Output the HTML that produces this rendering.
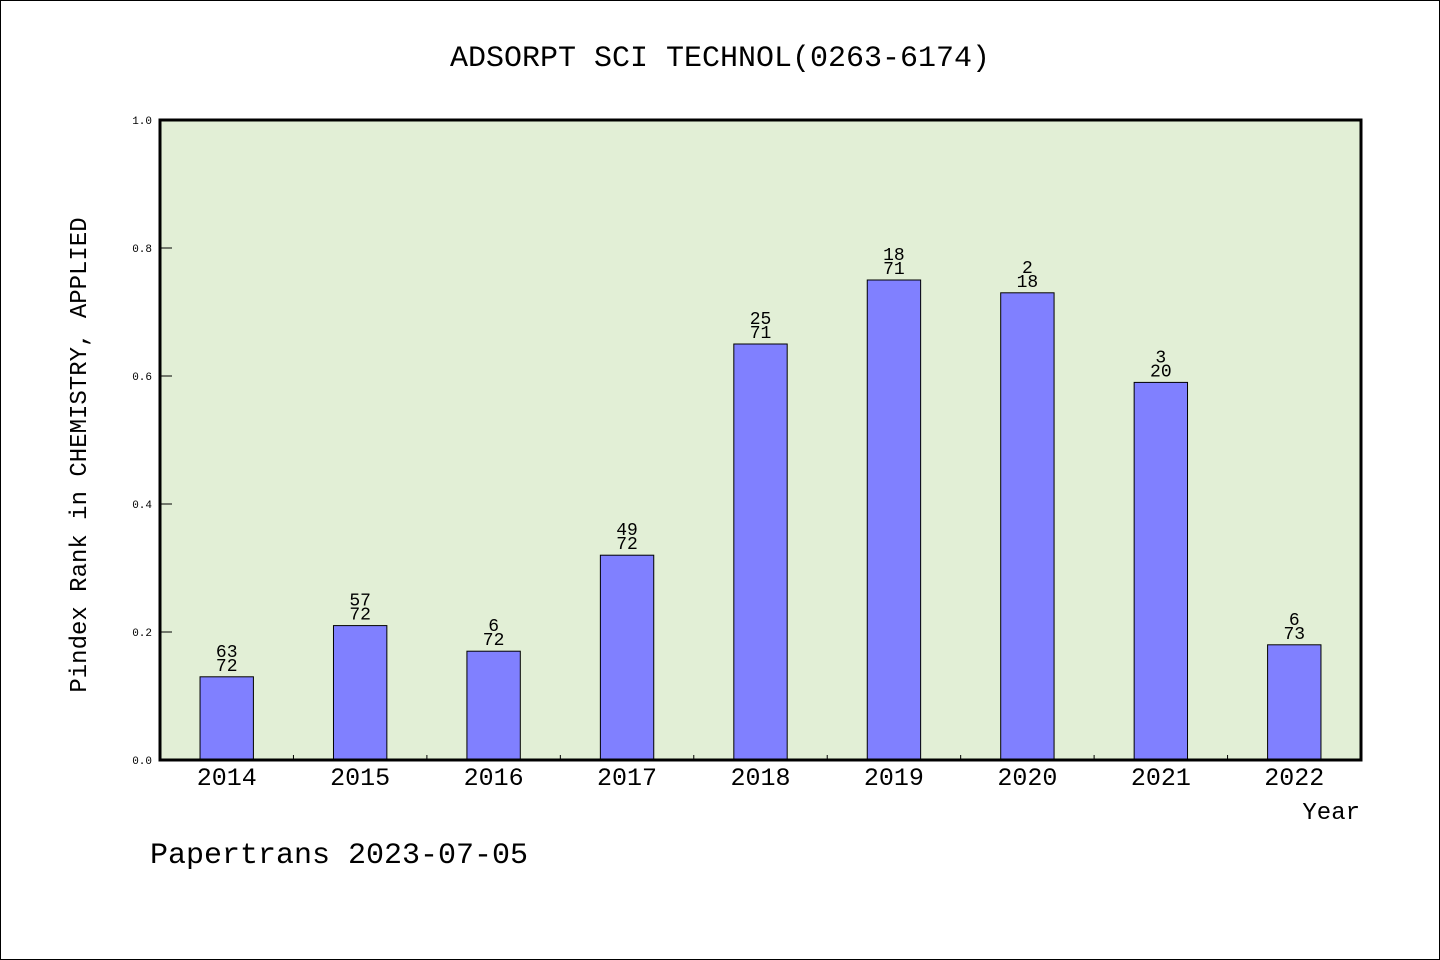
<!DOCTYPE html>
<html><head><meta charset="utf-8"><style>
html,body{margin:0;padding:0;background:#fff}
svg{display:block}
text{font-family:"Liberation Mono","WenQuanYi Zen Hei",monospace;fill:#000}
</style></head><body>
<svg id="chart" width="1440" height="960">
<rect x="0.5" y="0.5" width="1439" height="959" fill="#fff" stroke="#000"/>
<text x="720" y="66" font-size="30" text-anchor="middle">ADSORPT SCI TECHNOL(0263-6174)</text>
<rect x="160" y="120" width="1201" height="640" fill="#e2efd6"/>
<g id="bars"></g>
<g id="ticks"></g>
<rect x="160" y="120" width="1201" height="640" fill="none" stroke="#000" stroke-width="3"/>
<text x="86" y="455" font-size="24" text-anchor="middle" transform="rotate(-90 86 455)">Pindex Rank in CHEMISTRY, APPLIED</text>
<text x="1360" y="819" font-size="24" text-anchor="end">Year</text>
<text x="150" y="863" font-size="30">Papertrans 2023-07-05</text>
</svg>
<script>
const categories=["2014","2015","2016","2017","2018","2019","2020","2021","2022"];
const values=[0.13,0.21,0.17,0.32,0.65,0.75,0.73,0.59,0.18];
const ranks=["63","57","6","49","25","18","2","3","6"];
const totals=["72","72","72","72","71","71","18","20","73"];
const yTicks=[0,0.2,0.4,0.6,0.8,1.0];
const yTickLabels=["0.0","0.2","0.4","0.6","0.8","1.0"];
const NS="http://www.w3.org/2000/svg";
const X0=160,X1=1361,Y0=760,Y1=120;
const band=(X1-X0)/categories.length;
const y=v=>Y0-(v)*(Y0-Y1);
const xc=i=>X0+band*(i+0.5);
function mk(tag,attrs,parent,txt){const e=document.createElementNS(NS,tag);for(const k in attrs)e.setAttribute(k,attrs[k]);if(txt!==undefined)e.textContent=txt;parent.appendChild(e);return e;}
const bars=document.getElementById('bars'),ticks=document.getElementById('ticks');
const bw=band*0.4;
categories.forEach((c,i)=>{
  const r=mk('rect',{x:xc(i)-bw/2,y:y(values[i]),width:bw,height:Y0-y(values[i]),fill:'#8080ff',stroke:'#000','stroke-width':1},bars);
  
  
  const t1=mk('text',{x:xc(i),y:y(values[i])-20,'font-size':18,'text-anchor':'middle'},bars,ranks[i]);
  
  
  const t2=mk('text',{x:xc(i),y:y(values[i])-6,'font-size':18,'text-anchor':'middle'},bars,totals[i]);
  
  
  const xl=mk('text',{x:xc(i),y:785,'font-size':25,'text-anchor':'middle'},ticks,c);
  
  
  if(i>0){const tk=mk('line',{x1:X0+band*i,x2:X0+band*i,y1:Y0,y2:Y0-5,stroke:'#000'},ticks);
  
  }
});
yTicks.forEach((v,i)=>{
  const tk=mk('line',{x1:X0,x2:X0+12,y1:y(v),y2:y(v),stroke:'#000'},ticks);
  
  
  const tl=mk('text',{x:152,y:y(v)+4,'font-size':11,'text-anchor':'end'},ticks,yTickLabels[i]);
  
  
});
</script>
</body></html>
